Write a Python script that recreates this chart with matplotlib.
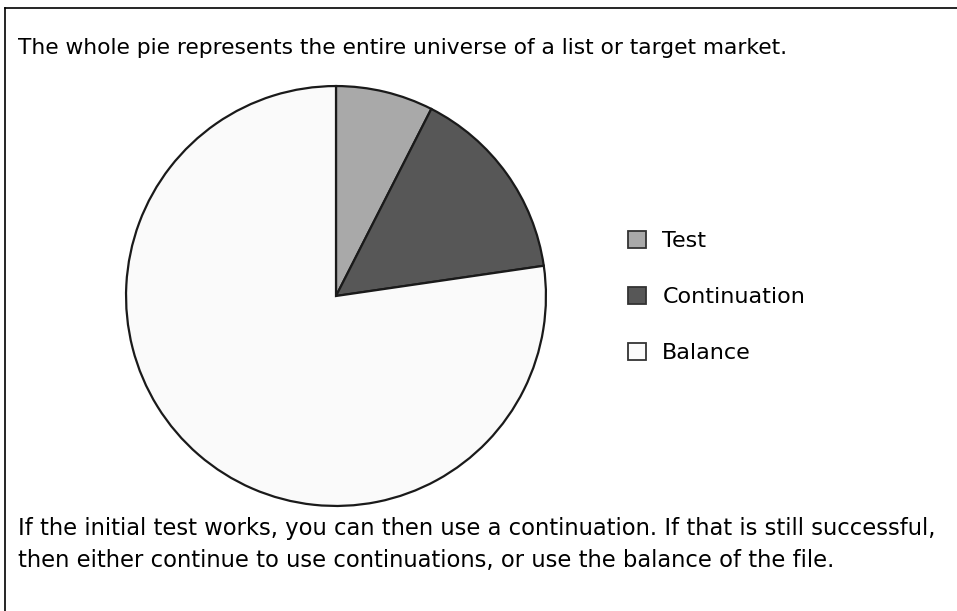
import matplotlib
matplotlib.use("Agg")
import matplotlib.pyplot as plt
from matplotlib.lines import Line2D
from matplotlib.patches import Patch

labels = ["Test", "Continuation", "Balance"]
shares = [7.5, 15.2, 77.3]
colors = ["#a9a9a9", "#575757", "#fafafa"]

top_text = "The whole pie represents the entire universe of a list or target market."
bottom_text = ("If the initial test works, you can then use a continuation. If that is still successful,\n"
               "then either continue to use continuations, or use the balance of the file.")

plt.rcParams['font.family'] = ['DejaVu Sans']

W, H = 957, 611
fig = plt.figure(figsize=(W / 100, H / 100), dpi=100)
fig.patch.set_facecolor("white")

# pie centre ~ (336, 296) px, radius ~ 211 px
cx, cy, r = 336, 296, 211
ax = fig.add_axes([(cx - r) / W, 1 - (cy + r) / H, 2 * r / W, 2 * r / H])
ax.pie(shares, colors=colors, startangle=90, counterclock=False,
       wedgeprops=dict(edgecolor="#1a1a1a", linewidth=1.6))
ax.set_xlim(-1.005, 1.005)
ax.set_ylim(-1.005, 1.005)
ax.set_aspect("equal")

handles = [Patch(facecolor=c, edgecolor="#333333", linewidth=1.3) for c in colors]
fig.legend(handles, labels, loc="center left", bbox_to_anchor=(619 / W, 1 - 297 / H),
           frameon=False, fontsize=16, handlelength=0.8, handleheight=0.8,
           handletextpad=0.75, labelspacing=1.62, borderaxespad=0)

fig.text(18 / W, 1 - 48 / H, top_text, fontsize=15.7, va="center", ha="left")
fig.text(18 / W, 1 - 545 / H, bottom_text, fontsize=16.3, va="center", ha="left",
         linespacing=1.5)

# frame (only top and left edges visible)
fig.add_artist(Line2D([5 / W, 1], [1 - 8 / H, 1 - 8 / H], color="black", linewidth=1.2))
fig.add_artist(Line2D([5 / W, 5 / W], [0, 1 - 8 / H], color="black", linewidth=1.2))

fig.savefig("out.png", dpi=100)
